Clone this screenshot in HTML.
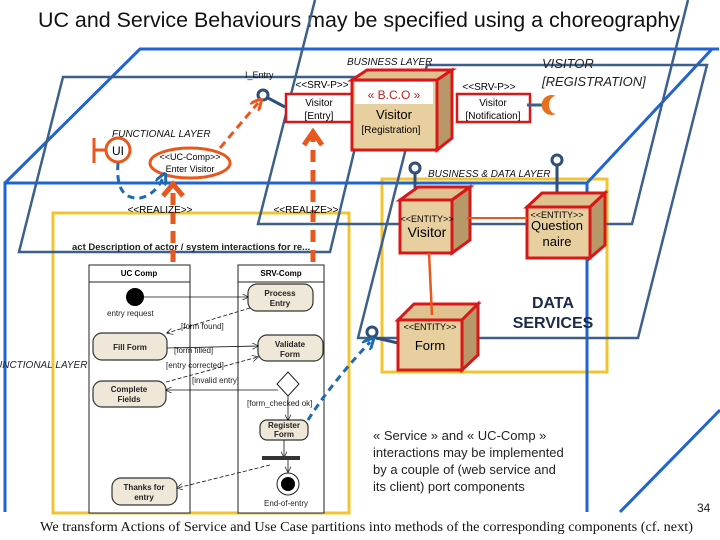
<!DOCTYPE html>
<html><head><meta charset="utf-8"><style>
html,body{margin:0;padding:0;background:#fff}
svg{display:block}
</style></head><body>
<svg width="720" height="540" viewBox="0 0 720 540" xmlns="http://www.w3.org/2000/svg" font-family="Liberation Sans, sans-serif">
<defs>
<marker id="oa" viewBox="0 0 10 10" refX="5" refY="5" markerWidth="4" markerHeight="4" orient="auto"><path d="M0,0 L10,5 L0,10" fill="none" stroke="#e8581c" stroke-width="2.5"/></marker>
<marker id="ba" viewBox="0 0 10 10" refX="5" refY="5" markerWidth="4" markerHeight="4" orient="auto"><path d="M0,0 L10,5 L0,10" fill="none" stroke="#1e6ab0" stroke-width="2.5"/></marker>
<marker id="ka" viewBox="0 0 10 10" refX="9" refY="5" markerWidth="8" markerHeight="8" orient="auto"><path d="M0,0 L10,5 L0,10" fill="none" stroke="#000" stroke-width="1"/></marker>
</defs>
<rect width="720" height="540" fill="#fff"/>
<text x="38" y="27" font-size="21" fill="#111" textLength="642" lengthAdjust="spacingAndGlyphs">UC and Service Behaviours may be specified using a choreography</text>

<!-- yellow boxes -->
<rect x="53" y="213" width="296" height="300" fill="none" stroke="#f2c530" stroke-width="3"/>
<rect x="382" y="179" width="225" height="193" fill="none" stroke="#f2c530" stroke-width="3"/>

<!-- blue cube -->
<g fill="none" stroke="#1f64d0" stroke-width="3">
<polyline points="5,512 5,183 587,183 587,512"/>
<polyline points="5,183 140,49 712,49 587,183"/>
<line x1="712" y1="49" x2="719" y2="49"/>
<line x1="720" y1="410" x2="620" y2="512"/>
</g>

<!-- slate planes -->
<g fill="none" stroke="#3d5f8c" stroke-width="2.5">
<polygon points="63,77 372,77 330,252 19,252"/>
<polyline points="315,0 258,224 632,224 688,0"/>
<polygon points="427,65 707,65 638,338 358,338"/>
</g>

<!-- activity diagram -->
<text x="72" y="250" font-size="9.5" font-weight="bold" fill="#222">act Description of actor / system interactions for re...</text>
<g stroke="#222" fill="#fff" stroke-width="1">
<rect x="89" y="265" width="101" height="248"/>
<line x1="89" y1="282" x2="190" y2="282"/>
<rect x="238" y="265" width="86" height="248"/>
<line x1="238" y1="282" x2="324" y2="282"/>
</g>
<text x="139" y="276" font-size="8" font-weight="bold" text-anchor="middle">UC Comp</text>
<text x="281" y="276" font-size="8" font-weight="bold" text-anchor="middle">SRV-Comp</text>
<g fill="#efe7d8" stroke="#333" stroke-width="1.2">
<rect x="248" y="284" width="65" height="27" rx="9"/>
<rect x="93" y="333" width="74" height="27" rx="9"/>
<rect x="258" y="335" width="65" height="26" rx="9"/>
<rect x="93" y="381" width="73" height="26" rx="9"/>
<rect x="260" y="420" width="48" height="20" rx="7"/>
<rect x="112" y="478" width="65" height="27" rx="9"/>
</g>
<g font-size="8" font-weight="bold" text-anchor="middle" fill="#222">
<text x="280" y="296">Process</text><text x="280" y="306">Entry</text>
<text x="130" y="350">Fill Form</text>
<text x="290" y="347">Validate</text><text x="290" y="357">Form</text>
<text x="129" y="392">Complete</text><text x="129" y="402">Fields</text>
<text x="284" y="428">Register</text><text x="284" y="437">Form</text>
<text x="144" y="490">Thanks for</text><text x="144" y="500">entry</text>
</g>
<circle cx="135" cy="297" r="9" fill="#000"/>
<g font-size="8" fill="#222">
<text x="107" y="316">entry request</text>
<text x="181" y="329">[form found]</text>
<text x="174" y="353">[form filled]</text>
<text x="166" y="368">[entry corrected]</text>
<text x="192" y="383">[invalid entry]</text>
<text x="247" y="406">[form_checked ok]</text>
<text x="264" y="506">End-of-entry</text>
</g>
<g stroke="#111" stroke-width="0.8" fill="none">
<line x1="144" y1="297" x2="248" y2="297" marker-end="url(#ka)"/>
<line x1="250" y1="308" x2="167" y2="333" stroke-dasharray="4,2" marker-end="url(#ka)"/>
<line x1="167" y1="348" x2="258" y2="346" marker-end="url(#ka)"/>
<line x1="166" y1="382" x2="258" y2="357" stroke-dasharray="4,2" marker-end="url(#ka)"/>
<line x1="278" y1="390" x2="166" y2="390" marker-end="url(#ka)"/>
<line x1="288" y1="395" x2="288" y2="420" marker-end="url(#ka)"/>
<line x1="284" y1="440" x2="284" y2="457" marker-end="url(#ka)"/>
<line x1="288" y1="459" x2="288" y2="472" marker-end="url(#ka)"/>
<line x1="270" y1="465" x2="177" y2="488" stroke-dasharray="4,2" marker-end="url(#ka)"/>
</g>
<polygon points="288,372 299,384 288,396 277,384" fill="#fff" stroke="#222"/>
<rect x="262" y="456" width="38" height="4" fill="#333"/>
<circle cx="288" cy="484" r="11" fill="#fff" stroke="#222"/>
<circle cx="288" cy="484" r="7" fill="#000"/>
<text x="-5" y="368" font-size="10" font-style="italic" fill="#223">UNCTIONAL LAYER</text>

<!-- labels top -->
<text x="347" y="65" font-size="10" font-style="italic" fill="#111">BUSINESS  LAYER</text>
<text x="245" y="78" font-size="9" fill="#111">I_Entry</text>
<text x="112" y="137" font-size="10" font-style="italic" fill="#111">FUNCTIONAL LAYER</text>
<text x="542" y="68" font-size="13" font-style="italic" fill="#222">VISITOR</text>
<text x="542" y="86" font-size="13" font-style="italic" fill="#222">[REGISTRATION]</text>
<text x="428" y="177" font-size="10" font-style="italic" fill="#111">BUSINESS &amp; DATA  LAYER</text>

<!-- SRV-P boxes -->
<text x="322" y="88" font-size="10" text-anchor="middle">&lt;&lt;SRV-P&gt;&gt;</text>
<rect x="286" y="94" width="66" height="28" fill="#fff" stroke="#d81818" stroke-width="2.5"/>
<text x="319" y="106" font-size="10" text-anchor="middle">Visitor</text>
<text x="319" y="119" font-size="10" text-anchor="middle">[Entry]</text>
<text x="489" y="90" font-size="10" text-anchor="middle">&lt;&lt;SRV-P&gt;&gt;</text>
<rect x="457" y="94" width="73" height="28" fill="#fff" stroke="#d81818" stroke-width="2.5"/>
<text x="493" y="106" font-size="10" text-anchor="middle">Visitor</text>
<text x="493" y="119" font-size="10" text-anchor="middle">[Notification]</text>
<line x1="527" y1="105" x2="545" y2="105" stroke="#3d5f8c" stroke-width="3"/>
<path d="M556,96 A10,10 0 1,0 556,114 A7,9 0 1,1 556,96Z" fill="#e8701c"/>

<!-- BCO cube -->
<polygon points="352,80 437,80 452,70 367,70" fill="#e0c290" stroke="#d81818" stroke-width="3"/>
<polygon points="437,80 452,70 452,138 437,150" fill="#b89868" stroke="#d81818" stroke-width="3"/>
<rect x="352" y="80" width="85" height="70" fill="#e8cfa0" stroke="#d81818" stroke-width="3"/>
<rect x="355" y="82" width="78" height="22" fill="#fff"/>
<text x="394" y="99" font-size="12" text-anchor="middle" fill="#c02020">« B.C.O »</text>
<text x="394" y="119" font-size="13" text-anchor="middle">Visitor</text>
<text x="391" y="133" font-size="10" text-anchor="middle">[Registration]</text>

<!-- lollipops -->
<g stroke="#2d4f7a" stroke-width="3" fill="#fff">
<line x1="268" y1="98" x2="285" y2="107"/>
<circle cx="263" cy="95" r="5"/>
<line x1="415" y1="173" x2="415" y2="198"/>
<circle cx="415" cy="168" r="5"/>
<line x1="557" y1="165" x2="557" y2="192"/>
<circle cx="557" cy="160" r="5"/>
<line x1="376" y1="338" x2="398" y2="343"/>
<circle cx="372" cy="332" r="5"/>
</g>

<!-- entity cubes -->
<g stroke="#d81818" stroke-width="3">
<polygon points="400,200 452,200 470,187 418,187" fill="#e0c290"/>
<polygon points="452,200 470,187 470,240 452,253" fill="#b89868"/>
<rect x="400" y="200" width="52" height="53" fill="#e8cfa0"/>
<polygon points="527,207 590,207 605,193 542,193" fill="#e0c290"/>
<polygon points="590,207 605,193 605,245 590,258" fill="#b89868"/>
<rect x="527" y="207" width="63" height="51" fill="#e8cfa0"/>
<polygon points="398,320 462,320 478,304 414,304" fill="#e0c290"/>
<polygon points="462,320 478,304 478,355 462,370" fill="#b89868"/>
<rect x="398" y="320" width="64" height="50" fill="#e8cfa0"/>
</g>
<text x="427" y="222" font-size="9" text-anchor="middle">&lt;&lt;ENTITY&gt;&gt;</text>
<text x="427" y="237" font-size="14" text-anchor="middle">Visitor</text>
<text x="557" y="218" font-size="9" text-anchor="middle">&lt;&lt;ENTITY&gt;&gt;</text>
<text x="557" y="230" font-size="13" text-anchor="middle">Question</text>
<text x="557" y="246" font-size="13" text-anchor="middle">naire</text>
<text x="430" y="330" font-size="9" text-anchor="middle">&lt;&lt;ENTITY&gt;&gt;</text>
<text x="430" y="350" font-size="13" text-anchor="middle">Form</text>
<line x1="467" y1="218" x2="527" y2="218" stroke="#e8581c" stroke-width="2"/>
<line x1="429" y1="253" x2="432" y2="315" stroke="#e8581c" stroke-width="2.5"/>
<text x="553" y="308" font-size="16" font-weight="bold" text-anchor="middle" fill="#1a2a4a">DATA</text>
<text x="553" y="328" font-size="16" font-weight="bold" text-anchor="middle" fill="#1a2a4a">SERVICES</text>

<!-- UI & UC comp -->
<g stroke="#e8581c" stroke-width="3" fill="none">
<line x1="94" y1="138" x2="94" y2="163"/>
<line x1="94" y1="150" x2="106" y2="150"/>
<circle cx="118" cy="150" r="12" fill="#fff"/>
<ellipse cx="190" cy="163" rx="40" ry="15" fill="#fff"/>
</g>
<text x="118" y="155" font-size="12" text-anchor="middle">UI</text>
<text x="190" y="160" font-size="9" text-anchor="middle">&lt;&lt;UC-Comp&gt;&gt;</text>
<text x="190" y="172" font-size="9" text-anchor="middle">Enter Visitor</text>
<path d="M220,148 L258,103" stroke="#e8581c" stroke-width="3" stroke-dasharray="8,5" fill="none" marker-end="url(#oa)"/>
<path d="M118,163 Q115,200 140,198 Q155,195 163,178" stroke="#1e6ab0" stroke-width="3" stroke-dasharray="7,5" fill="none" marker-end="url(#ba)"/>
<path d="M308,420 Q330,385 370,342" stroke="#1e6ab0" stroke-width="3" stroke-dasharray="7,5" fill="none" marker-end="url(#ba)"/>

<!-- realize arrows -->
<line x1="173" y1="262" x2="173" y2="188" stroke="#e8581c" stroke-width="5" stroke-dasharray="12,7"/>
<polyline points="163,196 173,184 183,196" fill="none" stroke="#e8581c" stroke-width="5"/>
<line x1="313" y1="262" x2="313" y2="132" stroke="#e8581c" stroke-width="5" stroke-dasharray="12,8"/>
<polyline points="304,145 313,132 322,145" fill="none" stroke="#e8581c" stroke-width="5"/>
<text x="160" y="213" font-size="10" text-anchor="middle">&lt;&lt;REALIZE&gt;&gt;</text>
<text x="306" y="213" font-size="10" text-anchor="middle">&lt;&lt;REALIZE&gt;&gt;</text>

<!-- text block -->
<g font-size="13" fill="#222">
<text x="373" y="440">« Service » and « UC-Comp »</text>
<text x="373" y="457">interactions may be implemented</text>
<text x="373" y="474">by a couple of (web service and</text>
<text x="373" y="491">its client) port components</text>
</g>
<text x="697" y="512" font-size="12" fill="#222">34</text>
<text x="40" y="531" font-size="14" style="font-family:'Liberation Serif',serif" fill="#111" textLength="653" lengthAdjust="spacingAndGlyphs">We transform Actions of Service and Use Case  partitions into methods of  the corresponding  components (cf. next)</text>
</svg>
</body></html>
